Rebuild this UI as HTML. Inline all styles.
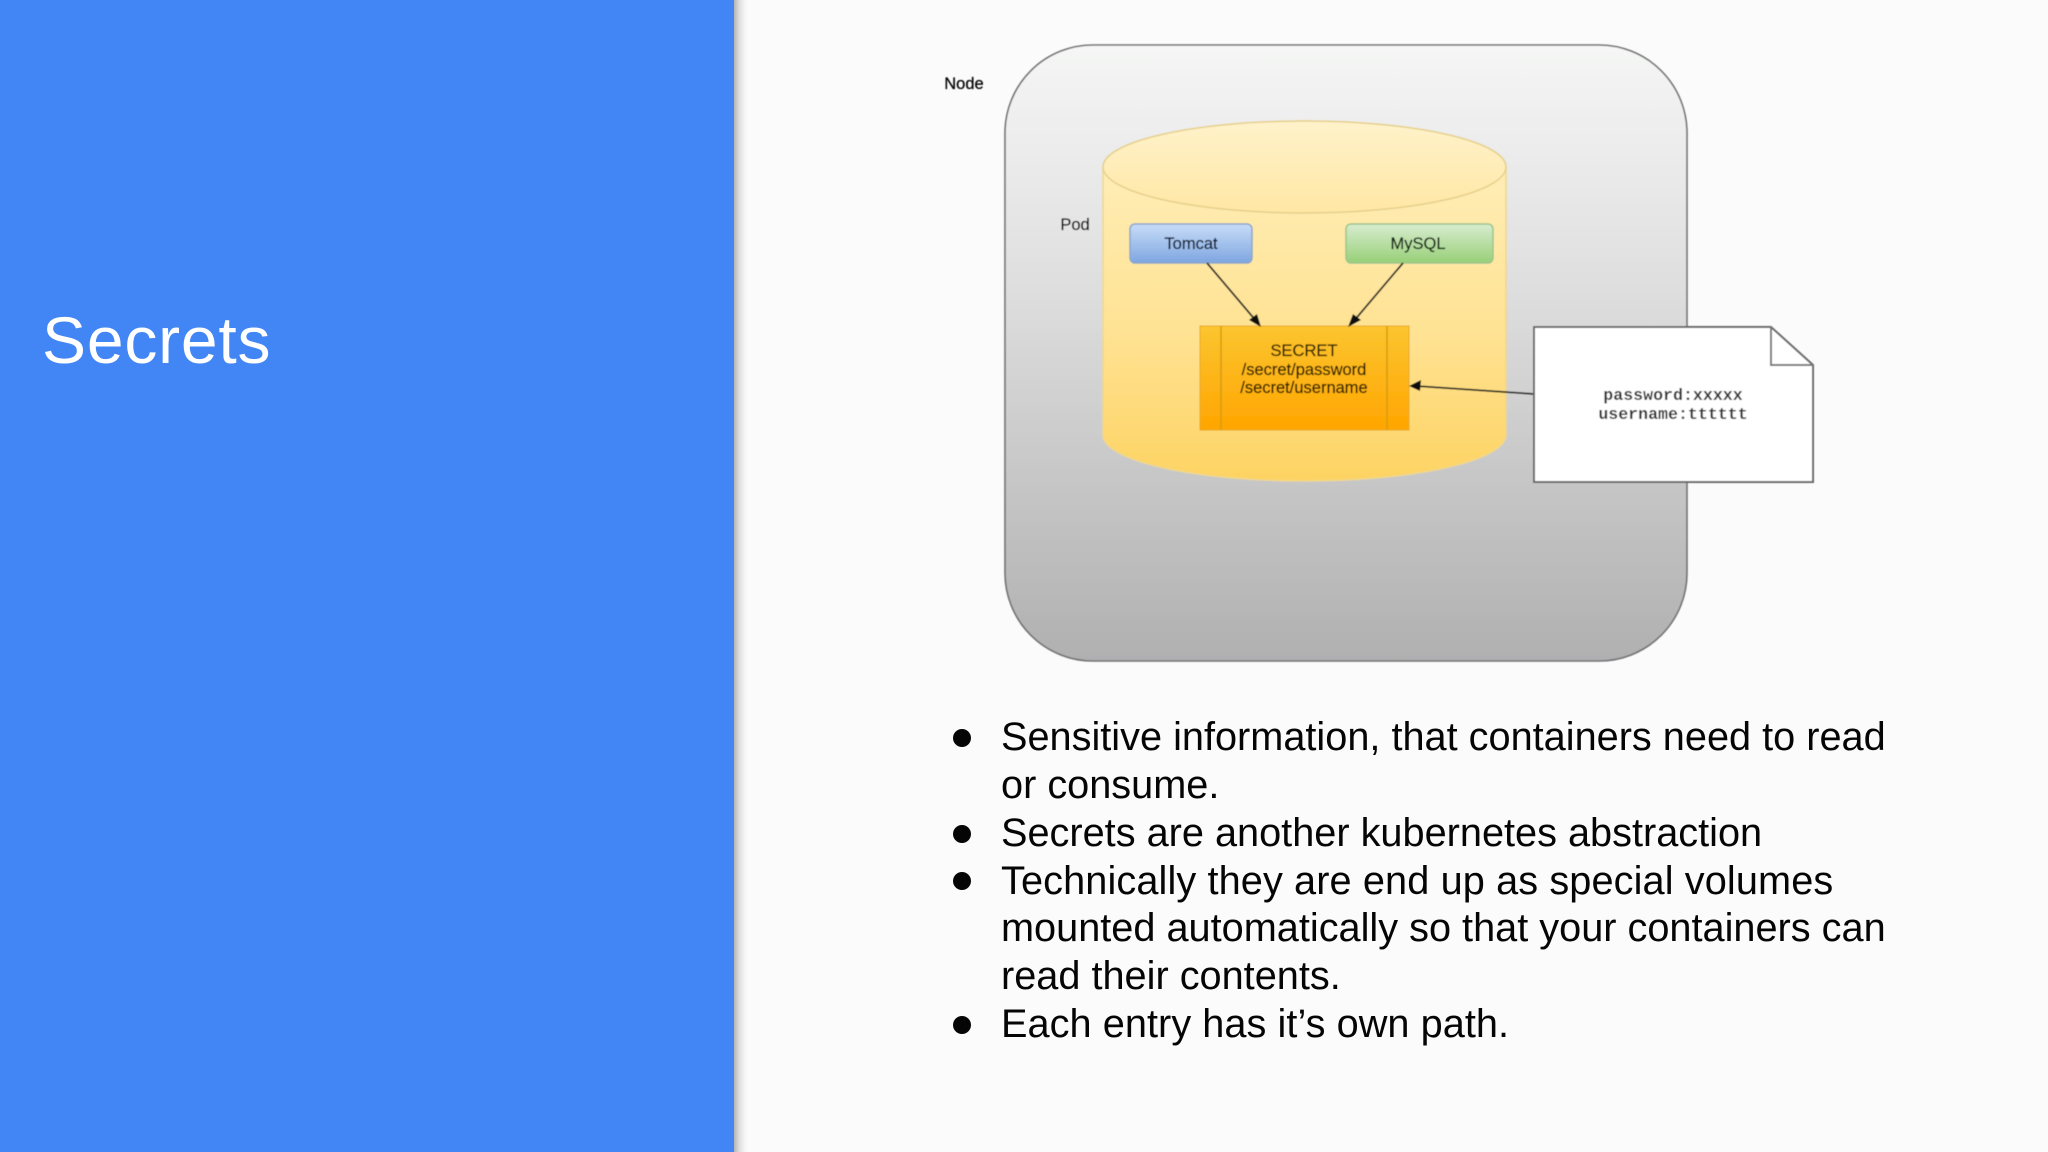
<!DOCTYPE html>
<html><head><meta charset="utf-8"><style>
html,body{margin:0;padding:0;width:2048px;height:1152px;overflow:hidden;background:#fbfbfc}
body{position:relative;font-family:"Liberation Sans",sans-serif}
.panel{position:absolute;left:0;top:0;width:734px;height:1152px;background:#4285f4}
.shadow{position:absolute;left:734px;top:0;width:14px;height:1152px;background:linear-gradient(90deg,#b4b4b4,#dcdcdc 35%,#f4f4f4 75%,#fbfbfc)}
.title{position:absolute;left:42px;top:300px;font-size:66px;letter-spacing:.8px;line-height:80px;color:#fff;white-space:nowrap}
.l{position:absolute;left:1001px;font-size:39.7px;line-height:48px;color:#050505;white-space:nowrap}
.b{position:absolute;left:953px;width:18px;height:18px;border-radius:50%;background:#050505}
svg{position:absolute;left:0;top:0}
</style></head><body>
<div class="panel"></div><div class="shadow"></div>
<div class="title">Secrets</div>
<svg width="2048" height="1152" viewBox="0 0 2048 1152">
<defs>
<linearGradient id="n" x1="0" y1="0" x2="0" y2="1"><stop offset="0" stop-color="#f5f6f5"/><stop offset="0.4" stop-color="#dedede"/><stop offset="1" stop-color="#b0b0b1"/></linearGradient>
<linearGradient id="c" x1="0" y1="0" x2="0" y2="1"><stop offset="0" stop-color="#fff0c0"/><stop offset="0.6" stop-color="#ffe292"/><stop offset="1" stop-color="#fdd362"/></linearGradient>
<linearGradient id="t" x1="0" y1="0" x2="0" y2="1"><stop offset="0" stop-color="#fff3cb"/><stop offset="1" stop-color="#ffe6a4"/></linearGradient>
<linearGradient id="to" x1="0" y1="0" x2="0" y2="1"><stop offset="0" stop-color="#c8dcf8"/><stop offset="1" stop-color="#7ea6e0"/></linearGradient>
<linearGradient id="my" x1="0" y1="0" x2="0" y2="1"><stop offset="0" stop-color="#d8ecd0"/><stop offset="1" stop-color="#97d077"/></linearGradient>
<linearGradient id="s" x1="0" y1="0" x2="0" y2="1"><stop offset="0" stop-color="#fcc530"/><stop offset="1" stop-color="#ffa500"/></linearGradient>
<filter id="f" x="-5%" y="-5%" width="110%" height="110%"><feGaussianBlur stdDeviation="0.6"/></filter>
</defs>
<g filter="url(#f)">
<rect x="1005" y="45" width="682" height="616" rx="88" ry="88" fill="url(#n)" stroke="#707070" stroke-width="1.6"/>
<path d="M1103 167 A201.5 46 0 0 1 1506 167 V435 A201.5 46 0 0 1 1103 435 Z" fill="url(#c)" stroke="#f0d78c" stroke-width="1.5"/>
<ellipse cx="1304.5" cy="167" rx="201.5" ry="46" fill="url(#t)" stroke="#e6d08c" stroke-width="1.5"/>
<rect x="1130" y="224" width="122" height="39" rx="5" fill="url(#to)" stroke="#8aa6cc" stroke-width="1.5"/>
<rect x="1346" y="224" width="147" height="39" rx="5" fill="url(#my)" stroke="#9cc48c" stroke-width="1.5"/>
<rect x="1200" y="326" width="209" height="104" fill="url(#s)" stroke="#e8a820" stroke-width="1"/>
<path d="M1221 326V430M1387 326V430" stroke="#d79b10" stroke-width="1.5" fill="none"/>
<path d="M1207 263L1257 322M1403 263L1353 322M1534 394L1416 386" stroke="#222" stroke-width="1.8" fill="none"/>
<path d="M1261 327L1249 320L1257 314ZM1348 327L1353 314L1361 320ZM1409 386L1421 380L1420 391Z" fill="#111"/>
<path d="M1534 327H1771L1813 365V482H1534Z" fill="#fff" stroke="#666" stroke-width="2"/>
<path d="M1771 327V365H1813" fill="none" stroke="#777" stroke-width="2"/>
<g font-family="'Liberation Sans',sans-serif" font-size="16.5" text-anchor="middle" fill="#000" stroke="#000" stroke-width="0.25">
<text x="964" y="89">Node</text>
<text x="1075" y="230">Pod</text>
<text x="1191" y="249" fill="#0d1830" stroke="#0d1830">Tomcat</text>
<text x="1418" y="249" fill="#0f2210" stroke="#0f2210">MySQL</text>
<text x="1304" y="356" fill="#2a1c00" stroke="#2a1c00">SECRET</text>
<text x="1304" y="375" fill="#2a1c00" stroke="#2a1c00">/secret/password</text>
<text x="1304" y="393" fill="#2a1c00" stroke="#2a1c00">/secret/username</text>
</g>
<g font-family="'Liberation Mono',monospace" font-size="16.6" font-weight="bold" text-anchor="middle" fill="#333">
<text x="1673" y="400">password:xxxxx</text>
<text x="1673" y="419">username:tttttt</text>
</g>
</g>
</svg>
<div class="b" style="top:729px"></div>
<div class="l" style="top:713px">Sensitive information, that containers need to read</div>
<div class="l" style="top:761px">or consume.</div>
<div class="b" style="top:825px"></div>
<div class="l" style="top:809px">Secrets are another kubernetes abstraction</div>
<div class="b" style="top:872px"></div>
<div class="l" style="top:857px;letter-spacing:.11px">Technically they are end up as special volumes</div>
<div class="l" style="top:904px">mounted automatically so that your containers can</div>
<div class="l" style="top:952px">read their contents.</div>
<div class="b" style="top:1016px"></div>
<div class="l" style="top:1000px;letter-spacing:.05px">Each entry has it’s own path.</div>
</body></html>
